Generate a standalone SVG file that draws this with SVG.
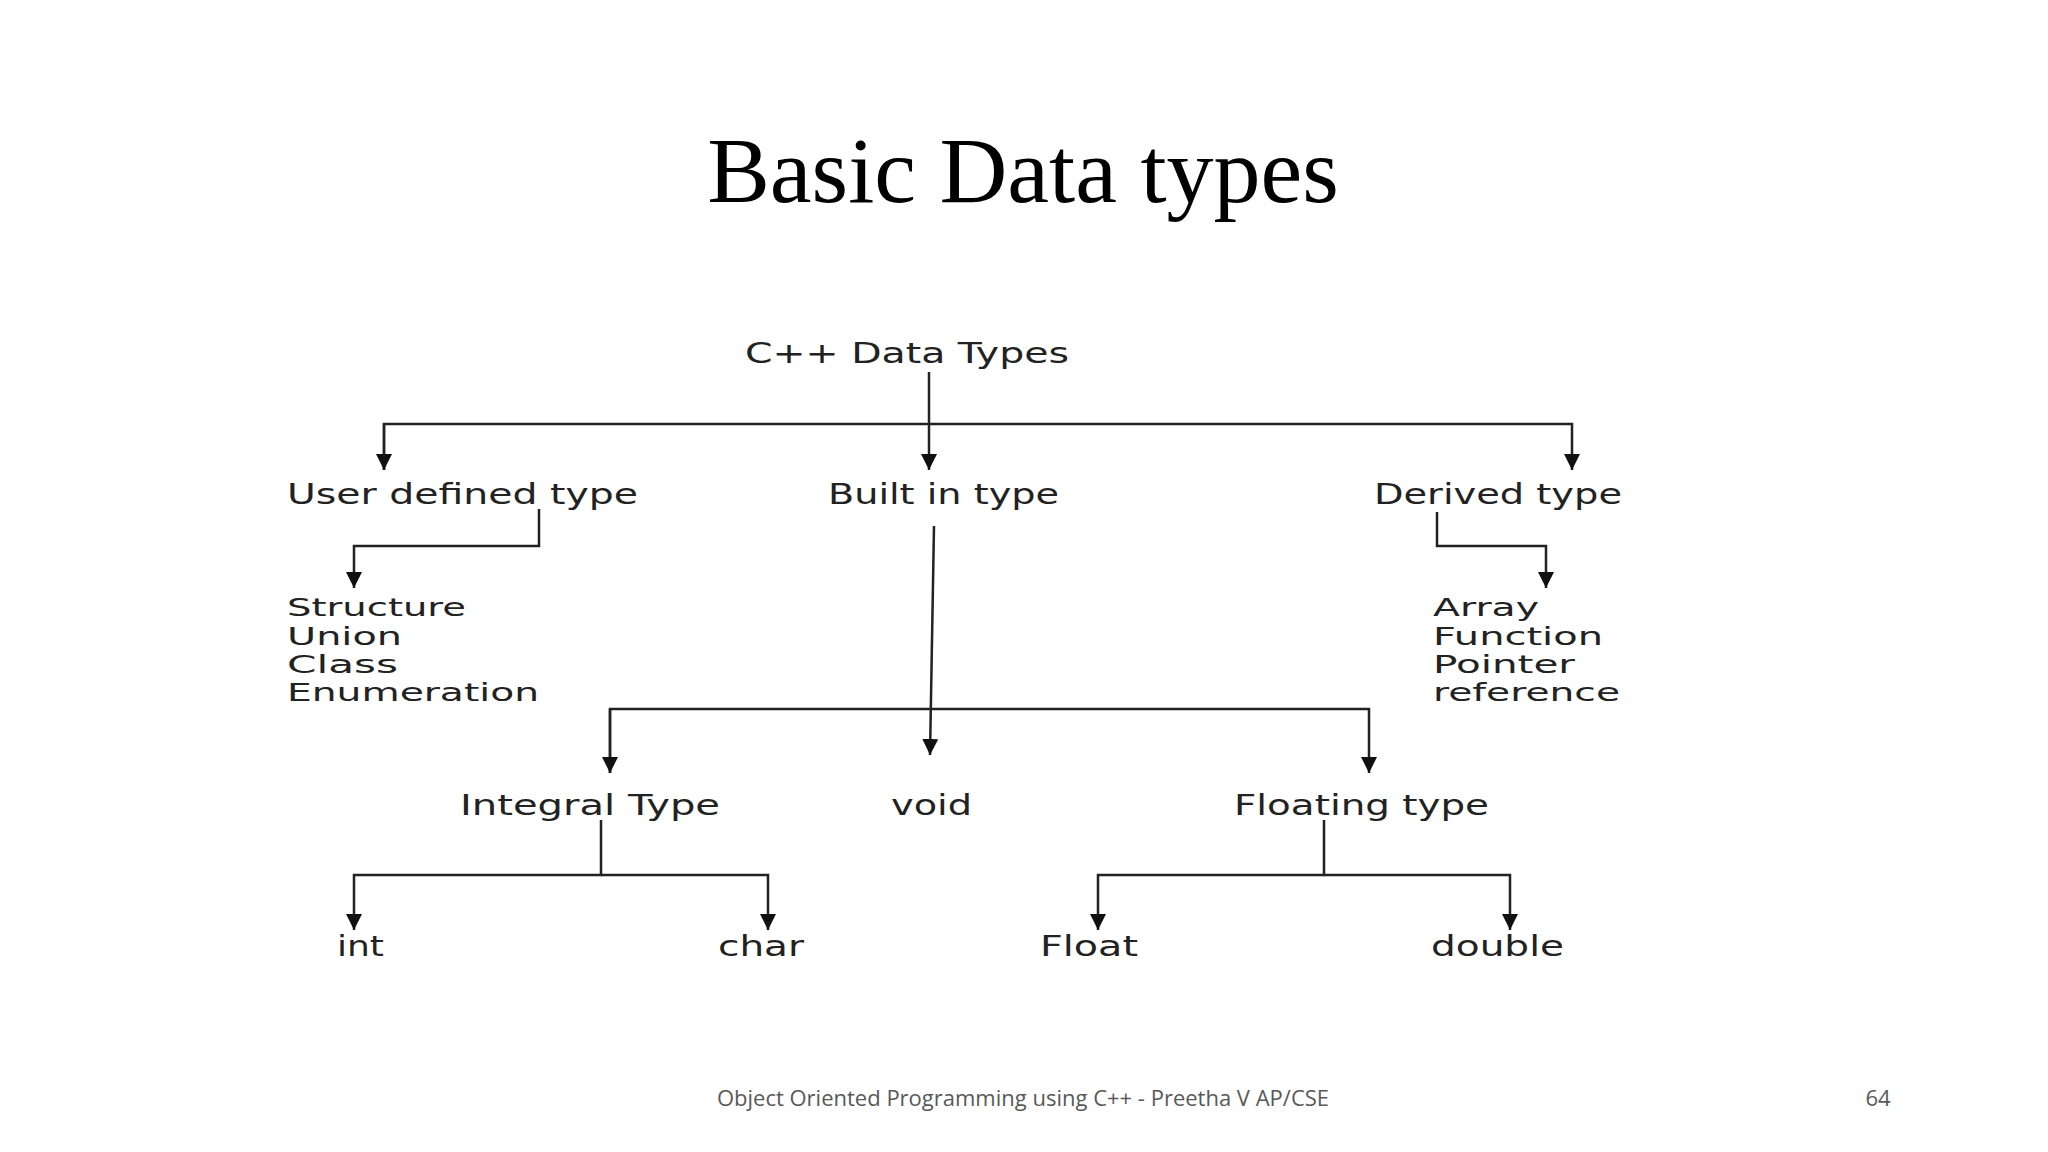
<svg xmlns="http://www.w3.org/2000/svg" width="2048" height="1152" viewBox="0 0 2048 1152">
<style>
.t{font-family:"DejaVu Sans",sans-serif;font-size:28px;fill:#222}
.s{font-family:"DejaVu Sans",sans-serif;font-size:25px;fill:#222}
.l{stroke:#222;stroke-width:2.5;fill:none}
</style>
<defs><marker id="b" viewBox="0 0 10 10" refX="10" refY="5" markerWidth="16" markerHeight="16" markerUnits="userSpaceOnUse" orient="auto"><path d="M0,0L10,5L0,10z" fill="#111"/></marker></defs>
<rect width="2048" height="1152" fill="#fff"/>
<text x="1023" y="202" text-anchor="middle" font-family="Liberation Serif,serif" font-size="94">Basic Data types</text>
<g id="connectors" class="l">
<path d="M929,372V470" marker-end="url(#b)"/>
<path d="M384,470V424H1572V470" marker-end="url(#b)"/>
<path d="M384,424V470" marker-end="url(#b)"/>
<path d="M539,509V546H354V588" marker-end="url(#b)"/>
<path d="M1437,512V546H1546V588" marker-end="url(#b)"/>
<path d="M934,526L930,755" marker-end="url(#b)"/>
<path d="M610,773V709H1369V773" marker-end="url(#b)"/>
<path d="M610,709V773" marker-end="url(#b)"/>
<path d="M601,820V875H354V930" marker-end="url(#b)"/>
<path d="M601,875H768V930" marker-end="url(#b)"/>
<path d="M1324,820V875H1098V930" marker-end="url(#b)"/>
<path d="M1324,875H1510V930" marker-end="url(#b)"/>
</g>
<g id="root"><text class="t" x="745" y="363" textLength="324" lengthAdjust="spacingAndGlyphs">C++ Data Types</text></g>
<g id="user"><text class="t" x="287" y="504" textLength="351" lengthAdjust="spacingAndGlyphs">User defined type</text></g>
<g id="builtin"><text class="t" x="828" y="504" textLength="231" lengthAdjust="spacingAndGlyphs">Built in type</text></g>
<g id="derived"><text class="t" x="1374" y="504" textLength="248" lengthAdjust="spacingAndGlyphs">Derived type</text></g>
<g id="userlist">
<text class="s" x="287" y="616" textLength="179" lengthAdjust="spacingAndGlyphs">Structure</text>
<text class="s" x="287" y="645" textLength="115" lengthAdjust="spacingAndGlyphs">Union</text>
<text class="s" x="287" y="673" textLength="111" lengthAdjust="spacingAndGlyphs">Class</text>
<text class="s" x="287" y="701" textLength="252" lengthAdjust="spacingAndGlyphs">Enumeration</text>
</g>
<g id="derivedlist">
<text class="s" x="1433" y="616" textLength="106" lengthAdjust="spacingAndGlyphs">Array</text>
<text class="s" x="1433" y="645" textLength="170" lengthAdjust="spacingAndGlyphs">Function</text>
<text class="s" x="1433" y="673" textLength="142" lengthAdjust="spacingAndGlyphs">Pointer</text>
<text class="s" x="1433" y="701" textLength="187" lengthAdjust="spacingAndGlyphs">reference</text>
</g>
<g id="integral"><text class="t" x="460" y="815" textLength="260" lengthAdjust="spacingAndGlyphs">Integral Type</text></g>
<g id="void"><text class="t" x="891" y="815" textLength="81" lengthAdjust="spacingAndGlyphs">void</text></g>
<g id="floating"><text class="t" x="1234" y="815" textLength="255" lengthAdjust="spacingAndGlyphs">Floating type</text></g>
<g id="int"><text class="t" x="337" y="956" textLength="47" lengthAdjust="spacingAndGlyphs">int</text></g>
<g id="char"><text class="t" x="718" y="956" textLength="86" lengthAdjust="spacingAndGlyphs">char</text></g>
<g id="float"><text class="t" x="1040" y="956" textLength="98" lengthAdjust="spacingAndGlyphs">Float</text></g>
<g id="double"><text class="t" x="1431" y="956" textLength="133" lengthAdjust="spacingAndGlyphs">double</text></g>
<text x="1023" y="1106" text-anchor="middle" font-family="Open Sans,sans-serif" font-size="22" fill="#595959">Object Oriented Programming using C++ - Preetha V AP/CSE</text>
<text x="1878" y="1106" text-anchor="middle" font-family="Open Sans,sans-serif" font-size="22" fill="#595959">64</text>
</svg>
